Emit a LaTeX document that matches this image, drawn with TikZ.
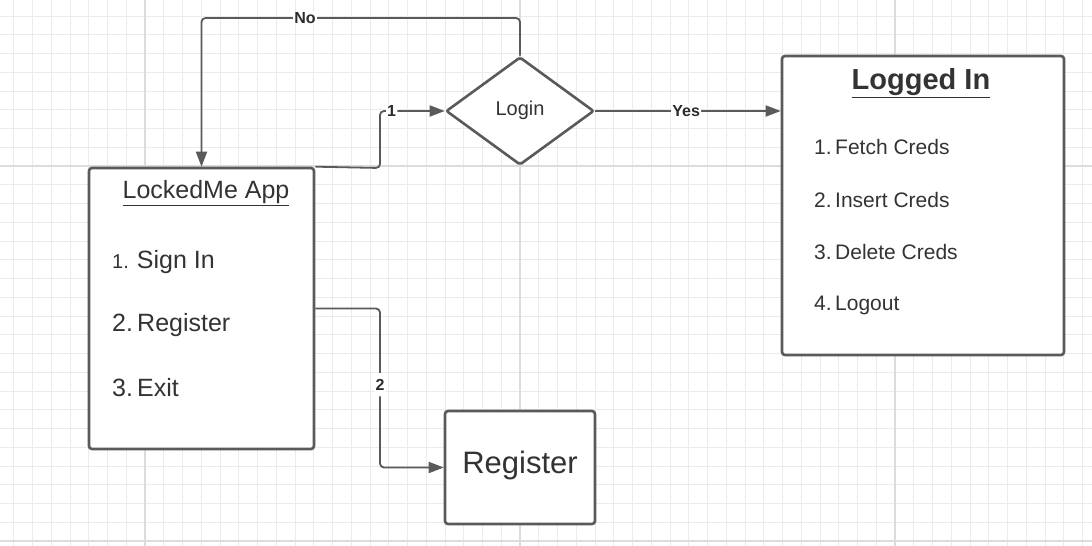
\documentclass[tikz,border=0pt]{standalone}
\usepackage{fontspec}
\setmainfont{Liberation Sans}
\usetikzlibrary{shapes.geometric,arrows.meta}
\definecolor{ln}{HTML}{5A5A5A}
\definecolor{tx}{HTML}{333333}
\definecolor{lt}{HTML}{2B2B2B}
\definecolor{gmin}{HTML}{EBEBEB}
\definecolor{gmaj}{HTML}{DCDCDC}
\tikzset{
  box/.style={draw=ln, line width=2.6pt, rounded corners=3pt, fill=white, inner sep=0pt},
  edge/.style={draw=ln, line width=1.8pt, rounded corners=4pt, -{Triangle[length=15pt,width=11pt]}},
  lbl/.style={fill=white, inner sep=1.2pt, text=lt, font=\fontsize{16}{18}\selectfont\bfseries},
  itm/.style={anchor=west, inner sep=0pt, text=tx},
}
\begin{document}
\begin{tikzpicture}[x=1pt,y=-1pt]
\useasboundingbox (0,0) rectangle (1092,546);
\fill[white] (0,0) rectangle (1092,546);
% grid
\foreach \i in {-7,...,51} \draw[gmin, line width=0.9pt] ({145+18.75*\i},0) -- ({145+18.75*\i},546);
\foreach \j in {-8,...,20} \draw[gmin, line width=0.9pt] (0,{166+18.75*\j}) -- (1092,{166+18.75*\j});
\foreach \x in {145,520,895} \draw[gmaj, line width=1.6pt] (\x,0) -- (\x,546);
\foreach \y in {166,541} \draw[gmaj, line width=1.6pt] (0,\y) -- (1092,\y);

% nodes
\node[box, minimum width=225pt, minimum height=281pt] (app) at (201.5,308.5) {};
\node[draw=ln, line width=2.6pt, diamond, rounded corners=2pt, fill=white, inner sep=0pt,
      minimum width=148pt, minimum height=108pt] (login) at (520,111) {};
\node[text=tx, font=\fontsize{20}{24}\selectfont] (logintext) at (520,110) {Login};
\node[box, minimum width=282pt, minimum height=299pt] (logged) at (923,205.5) {};
\node[box, minimum width=150pt, minimum height=113pt] (reg) at (520,467.5) {};
\node[text=tx, font=\fontsize{31}{35}\selectfont] (regtext) at (520,465) {Register};

% app text
\node[text=tx, inner sep=0pt, font=\fontsize{25}{29}\selectfont] (apptitle) at (206,193) {\underline{LockedMe App}};
\node[itm, font=\fontsize{25}{29}\selectfont] (a1) at (112,262) {{\fontsize{20}{23}\selectfont 1.}\hspace{8pt}Sign In};
\node[itm, font=\fontsize{25}{29}\selectfont] (a2) at (112,325) {2.\,Register};
\node[itm, font=\fontsize{25}{29}\selectfont] (a3) at (112,388) {3.\,Exit};

% logged text
\node[text=tx, inner sep=0pt, font=\fontsize{29}{33}\selectfont\bfseries] (loggedtitle) at (921,83) {\underline{Logged In}};
\node[itm, font=\fontsize{21}{25}\selectfont] (l1) at (814,147) {1.\,Fetch Creds};
\node[itm, font=\fontsize{21}{25}\selectfont] (l2) at (814,200) {2.\,Insert Creds};
\node[itm, font=\fontsize{21}{25}\selectfont] (l3) at (814,252) {3.\,Delete Creds};
\node[itm, font=\fontsize{21}{25}\selectfont] (l4) at (814,305) {4.\,Logout};

% connectors
\draw[edge] (app.north east) -- (380,168) -- (380,111) -- node[lbl, pos=0.18]{1} (login.west);
\draw[edge] (login.north) -- (520,18) -- node[lbl, pos=0.675]{No} (201.5,18) -- (app.north);
\draw[edge] (login.east) -- node[lbl, pos=0.49]{Yes} (login.east -| logged.west);
\draw[edge] (app.east) -- (380,308.5) -- node[lbl, pos=0.48, inner ysep=6pt]{2} (380,467.5) -- (reg.west);
\end{tikzpicture}
\end{document}
